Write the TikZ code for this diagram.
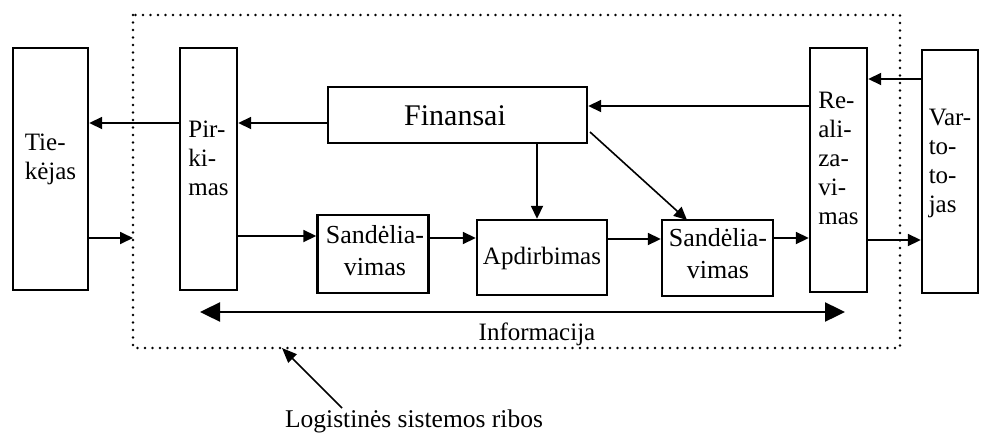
\documentclass[tikz,border=0pt]{standalone}
\usepackage{fontspec}
\setmainfont{Liberation Serif}
\usetikzlibrary{arrows.meta}
\begin{document}
\begin{tikzpicture}[x=1pt,y=-1pt,
  box/.style={draw, line width=2.4pt, inner sep=0pt},
  lbl/.style={font=\fontsize{25}{29}\selectfont, align=left, inner sep=0pt},
  flow/.style={line width=1.8pt, -{Triangle[length=13pt,width=12pt]}},
  info/.style={line width=2.4pt, {Triangle[length=20pt,width=19pt]}-{Triangle[length=20pt,width=19pt]}},
  bound/.style={line width=2.8pt, line cap=round, dash pattern=on 0pt off 7.5pt}]
\useasboundingbox (0,0) rectangle (992,436);

% system boundary
\draw[bound] (133,15) rectangle (900,348);

% boxes
\node[box, minimum width=75pt, minimum height=242pt] (tiek)  at (50.5,169) {};
\node[box, minimum width=57pt, minimum height=242pt] (pirk)  at (208.5,169) {};
\node[box, minimum width=57pt, minimum height=244pt] (real)  at (838.5,170) {};
\node[box, minimum width=56pt, minimum height=243pt] (vart)  at (950,171.5) {};
\node[box, minimum width=259pt, minimum height=56pt] (fin)   at (457.5,115) {};
\node[box, minimum width=111pt, minimum height=78pt] (sandA) at (373,254) {};
\node[box, minimum width=130pt, minimum height=75pt] (apd)   at (542,257.5) {};
\node[box, minimum width=111pt, minimum height=76pt] (sandB) at (717.5,258) {};

% texts
\node[lbl] (tiekT) at (50.5,159) {Tie-\\kėjas};
\node[lbl] (pirkT) at (208.5,158) {Pir-\\ki-\\mas};
\node[lbl] (realT) at (838.5,158) {Re-\\ali-\\za-\\vi-\\mas};
\node[lbl] (vartT) at (950,163) {Var-\\to-\\to-\\jas};
\node[lbl, font=\fontsize{30}{36}\selectfont] (finT) at (455,116) {Finansai};
\node[lbl, font=\fontsize{26}{32}\selectfont, align=center] (sandAT) at (375,251) {Sandėlia-\\vimas};
\node[lbl] (apdT) at (542,258) {Apdirbimas};
\node[lbl, font=\fontsize{26}{32}\selectfont, align=center] (sandBT) at (718,253.5) {Sandėlia-\\vimas};
\node[lbl] (infoT) at (537,334) {Informacija};
\node[lbl, font=\fontsize{25.5}{30}\selectfont] (ribT) at (414,421.5) {Logistinės sistemos ribos};

% helper levels
\coordinate (lvVart) at (0,79);
\coordinate (lvReal) at (0,106);
\coordinate (lvFin)  at (0,123);
\coordinate (lvLow)  at (0,238);
\coordinate (lvOut)  at (0,240);
\coordinate (inEdge) at (133,238);
\coordinate (infL)   at (200,312);
\coordinate (infR)   at (845,312);
\coordinate (ribTip) at (282,348);
\coordinate (ribTail) at (342,408);
\coordinate (finSE)  at (590,132);
\coordinate (sandBtop) at (687,220);

% connectors
\draw[flow] (pirk.west |- lvFin) -- (tiek.east |- lvFin);
\draw[flow] (fin.west |- lvFin) -- (pirk.east |- lvFin);
\draw[flow] (real.west |- lvReal) -- (fin.east |- lvReal);
\draw[flow] (vart.west |- lvVart) -- (real.east |- lvVart);
\draw[flow] (real.east |- lvOut) -- (vart.west |- lvOut);
\draw[flow] (tiek.east |- lvLow) -- (inEdge);
\draw[flow] (pirk.east |- 0,236) -- (sandA.west |- 0,236);
\draw[flow] (sandA.east |- lvLow) -- (apd.west |- lvLow);
\draw[flow] (apd.east |- 0,239) -- (sandB.west |- 0,239);
\draw[flow] (sandB.east |- lvLow) -- (real.west |- lvLow);
\draw[flow] (fin.south -| 537,0) -- (apd.north -| 537,0);
\draw[flow, line width=1.6pt] (finSE) -- (sandBtop);
\draw[info] (infL) -- (infR);
\draw[line width=1.5pt, -{Triangle[length=15pt,width=12pt]}] (ribTail) -- (ribTip);
\end{tikzpicture}
\end{document}
